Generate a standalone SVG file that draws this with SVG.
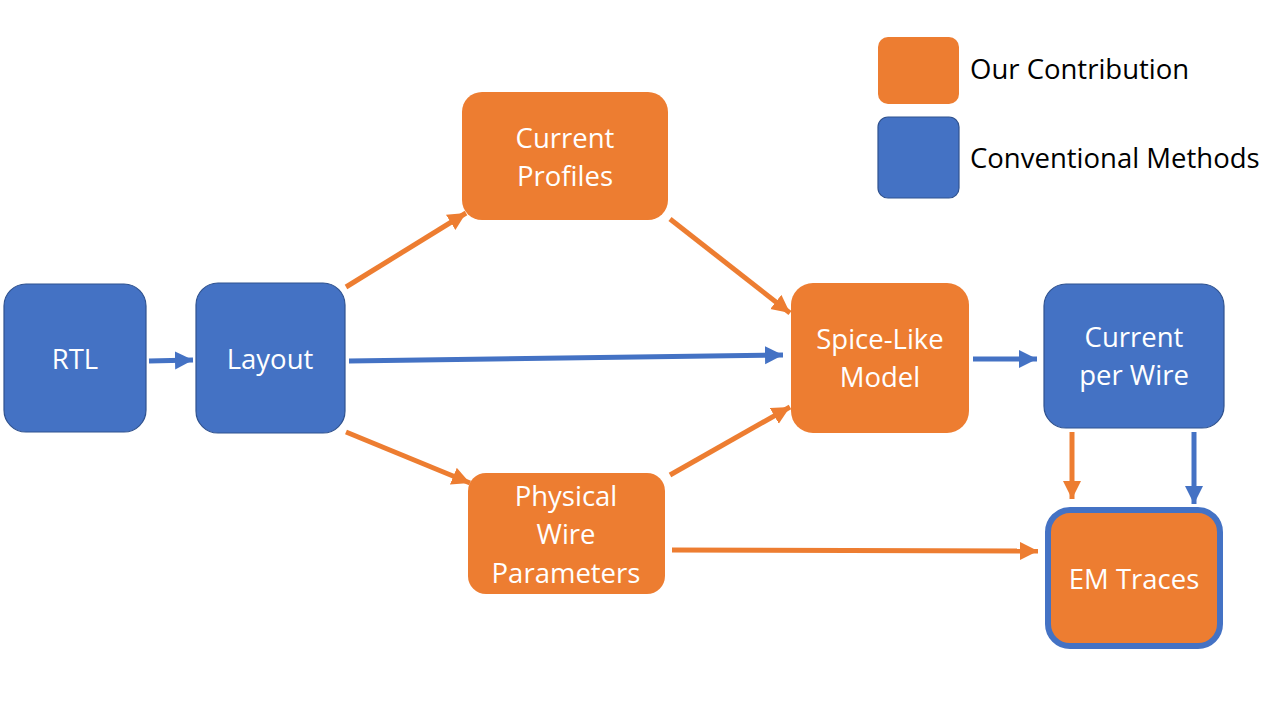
<svg xmlns="http://www.w3.org/2000/svg" width="1280" height="720" viewBox="0 0 1280 720">
<style>
.b{fill:#4472C4;stroke:#2F528F;stroke-width:1.2}
.o{fill:#ED7D31}
.t{font-family:"Open Sans","Liberation Sans",sans-serif;font-size:27.5px;fill:#fff;text-anchor:middle}
.l{font-family:"Open Sans","Liberation Sans",sans-serif;font-size:27.5px;fill:#000}
.co{stroke:#ED7D31;stroke-width:5;fill:none}
.cb{stroke:#4472C4;stroke-width:5;fill:none}
</style>
<defs>
<marker id="ao" markerUnits="userSpaceOnUse" markerWidth="20" markerHeight="20" refX="18" refY="9" orient="auto"><path d="M0,0 L18,9 L0,18 Z" fill="#ED7D31"/></marker>
<marker id="ab" markerUnits="userSpaceOnUse" markerWidth="20" markerHeight="20" refX="18" refY="9" orient="auto"><path d="M0,0 L18,9 L0,18 Z" fill="#4472C4"/></marker>
</defs>
<rect width="1280" height="720" fill="#fff"/>
<g id="connectors">
<line class="cb" x1="149" y1="361" x2="193" y2="360" marker-end="url(#ab)"/>
<line class="cb" x1="349" y1="361" x2="783" y2="355" marker-end="url(#ab)"/>
<line class="co" x1="346" y1="287" x2="466" y2="213" marker-end="url(#ao)"/>
<line class="co" x1="346" y1="432" x2="470" y2="483" marker-end="url(#ao)"/>
<line class="co" x1="670" y1="219" x2="790" y2="313" marker-end="url(#ao)"/>
<line class="co" x1="670" y1="475" x2="790" y2="407" marker-end="url(#ao)"/>
<line class="cb" x1="973" y1="359" x2="1037" y2="359" marker-end="url(#ab)"/>
<line class="co" x1="672" y1="550" x2="1038" y2="551" marker-end="url(#ao)"/>
<line class="co" x1="1072" y1="432" x2="1072" y2="499" marker-end="url(#ao)"/>
<line class="cb" x1="1194" y1="432" x2="1194" y2="504" marker-end="url(#ab)"/>
</g>
<g id="legend">
<rect class="o" x="878" y="37" width="81" height="67" rx="10"/>
<rect class="b" x="878" y="117" width="81" height="81" rx="10"/>
<text class="l" x="970" y="79">Our Contribution</text>
<text class="l" x="970" y="168">Conventional Methods</text>
</g>
<g id="rtl">
<rect class="b" x="4" y="284" width="142" height="148" rx="22"/>
<text class="t" x="75" y="369">RTL</text>
</g>
<g id="layout">
<rect class="b" x="196" y="283" width="149" height="150" rx="22"/>
<text class="t" x="270" y="369">Layout</text>
</g>
<g id="current-profiles">
<rect class="o" x="462" y="92" width="206" height="128" rx="20"/>
<text class="t" x="565" y="148">Current</text>
<text class="t" x="565" y="186">Profiles</text>
</g>
<g id="spice">
<rect class="o" x="791" y="283" width="178" height="150" rx="22"/>
<text class="t" x="880" y="349">Spice-Like</text>
<text class="t" x="880" y="387">Model</text>
</g>
<g id="current-per-wire">
<rect class="b" x="1044" y="284" width="180" height="144" rx="22"/>
<text class="t" x="1134" y="347">Current</text>
<text class="t" x="1134" y="385">per Wire</text>
</g>
<g id="physical">
<rect class="o" x="468" y="473" width="197" height="121" rx="18"/>
<text class="t" x="566" y="506">Physical</text>
<text class="t" x="566" y="544">Wire</text>
<text class="t" x="566" y="583">Parameters</text>
</g>
<g id="em-traces">
<rect class="o" x="1048" y="510" width="172" height="136" rx="22" stroke="#4472C4" stroke-width="6"/>
<text class="t" x="1134" y="589">EM Traces</text>
</g>
</svg>
